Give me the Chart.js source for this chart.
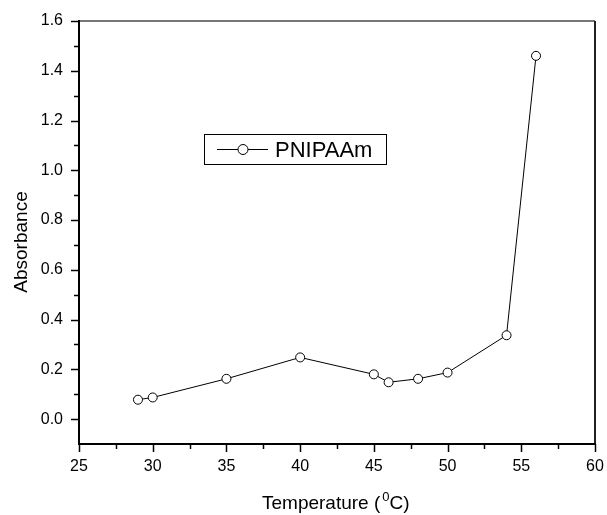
<!DOCTYPE html>
<html>
<head>
<meta charset="utf-8">
<script src="https://cdn.jsdelivr.net/npm/chart.js@4/dist/chart.umd.min.js"></script>
<style>
html,body{margin:0;padding:0;background:#fff;}
#wrap{width:607px;height:515px;position:relative;}
</style>
</head>
<body>
<div id="wrap"><canvas id="c" width="607" height="515"></canvas></div>
<script>
// ---- data ----
const temperatures = [29, 30, 35, 40, 45, 46, 48, 50, 54, 56];
const absorbance = [0.078, 0.087, 0.162, 0.248, 0.180, 0.148, 0.162, 0.187, 0.337, 1.46];
const seriesName = 'PNIPAAm';
const xMajorTicks = [25, 30, 35, 40, 45, 50, 55, 60];
const xMinorTicks = [27.5, 32.5, 37.5, 42.5, 47.5, 52.5, 57.5];
const yMajorTicks = [0.0, 0.2, 0.4, 0.6, 0.8, 1.0, 1.2, 1.4, 1.6];
const yMinorTicks = [0.1, 0.3, 0.5, 0.7, 0.9, 1.1, 1.3, 1.5];
const xTitleParts = ['Temperature (', '0', 'C)'];
const yTitle = 'Absorbance';

const FONT = '"Liberation Sans", Arial, Helvetica, sans-serif';

const framePlugin = {
  id: 'frame',
  afterDatasetsDraw(chart) {
    const ctx = chart.ctx;
    const a = chart.chartArea;
    const xs = chart.scales.x, ys = chart.scales.y;
    ctx.save();
    // top (gray) and right borders
    ctx.lineWidth = 2;
    ctx.strokeStyle = '#777';
    ctx.beginPath(); ctx.moveTo(a.left, a.top); ctx.lineTo(a.right, a.top); ctx.stroke();
    ctx.strokeStyle = '#222';
    ctx.beginPath(); ctx.moveTo(a.right, a.top); ctx.lineTo(a.right, a.bottom); ctx.stroke();
    // left and bottom axes
    ctx.strokeStyle = '#000';
    ctx.beginPath(); ctx.moveTo(a.left, a.top - 1); ctx.lineTo(a.left, a.bottom + 1); ctx.stroke();
    ctx.beginPath(); ctx.moveTo(a.left - 1, a.bottom); ctx.lineTo(a.right + 1, a.bottom); ctx.stroke();
    // ticks
    ctx.lineWidth = 1.5;
    const drawX = (v, len) => { const p = Math.round(xs.getPixelForValue(v)) + 0.5; ctx.beginPath(); ctx.moveTo(p, a.bottom); ctx.lineTo(p, a.bottom + len); ctx.stroke(); };
    const drawY = (v, len) => { const p = Math.round(ys.getPixelForValue(v)) + 0.5; ctx.beginPath(); ctx.moveTo(a.left, p); ctx.lineTo(a.left - len, p); ctx.stroke(); };
    xMajorTicks.forEach(v => drawX(v, 8));
    xMinorTicks.forEach(v => drawX(v, 5));
    yMajorTicks.forEach(v => drawY(v, 8));
    yMinorTicks.forEach(v => drawY(v, 5));

    // axis titles
    ctx.fillStyle = '#000';
    ctx.textBaseline = 'alphabetic';
    ctx.textAlign = 'left';
    const base = 509;
    let x = 262;
    ctx.font = '19px ' + FONT;
    ctx.fillText(xTitleParts[0], x, base);
    x += ctx.measureText(xTitleParts[0]).width + 2;
    ctx.font = '13px ' + FONT;
    ctx.fillText(xTitleParts[1], x, base - 8);
    x += ctx.measureText(xTitleParts[1]).width;
    ctx.font = '19px ' + FONT;
    ctx.fillText(xTitleParts[2], x, base);

    ctx.save();
    ctx.translate(27, 242);
    ctx.rotate(-Math.PI / 2);
    ctx.textAlign = 'center';
    ctx.font = '19px ' + FONT;
    ctx.fillText(yTitle, 0, 0);
    ctx.restore();

    // legend box
    ctx.lineWidth = 1;
    ctx.strokeStyle = '#000';
    ctx.strokeRect(204.5, 134.5, 182, 30);
    ctx.beginPath(); ctx.moveTo(217, 149.5); ctx.lineTo(268, 149.5); ctx.stroke();
    ctx.beginPath(); ctx.arc(243, 149.5, 5, 0, Math.PI * 2);
    ctx.fillStyle = '#fff'; ctx.fill(); ctx.stroke();
    ctx.fillStyle = '#000';
    ctx.font = '22px ' + FONT;
    ctx.textAlign = 'left';
    ctx.fillText(chart.data.datasets[0].label, 275, 157);
    ctx.restore();
  }
};

new Chart(document.getElementById('c'), {
  type: 'line',
  data: {
    datasets: [{
      label: seriesName,
      data: temperatures.map((t, i) => ({ x: t, y: absorbance[i] })),
      borderColor: '#000',
      borderWidth: 1,
      backgroundColor: '#fff',
      pointBackgroundColor: '#fff',
      pointBorderColor: '#000',
      pointBorderWidth: 1,
      pointRadius: 4.5,
      pointStyle: 'circle',
      tension: 0,
      clip: false
    }]
  },
  options: {
    responsive: false,
    animation: false,
    devicePixelRatio: 1,
    layout: { padding: { top: 21, right: 12, left: 0, bottom: 0 } },
    plugins: { legend: { display: false }, tooltip: { enabled: false }, title: { display: false } },
    scales: {
      x: {
        type: 'linear',
        min: 25, max: 60,
        afterBuildTicks: s => { s.ticks = xMajorTicks.map(v => ({ value: v })); },
        afterFit: s => { s.height = 71; s.paddingLeft = 0; s.paddingRight = 0; },
        grid: { display: false, drawTicks: false },
        border: { display: false },
        ticks: {
          autoSkip: false, maxRotation: 0, padding: 13,
          color: '#000', font: { family: FONT, size: 16 },
          callback: v => String(v)
        }
      },
      y: {
        type: 'linear',
        min: -0.1, max: 1.6,
        afterBuildTicks: s => { s.ticks = yMajorTicks.map(v => ({ value: v })); },
        afterFit: s => { s.width = 79; s.paddingTop = 0; s.paddingBottom = 0; },
        grid: { display: false, drawTicks: false },
        border: { display: false },
        ticks: {
          autoSkip: false, padding: 16,
          color: '#000', font: { family: FONT, size: 16 },
          callback: v => Number(v).toFixed(1)
        }
      }
    }
  },
  plugins: [framePlugin]
});
</script>
</body>
</html>
